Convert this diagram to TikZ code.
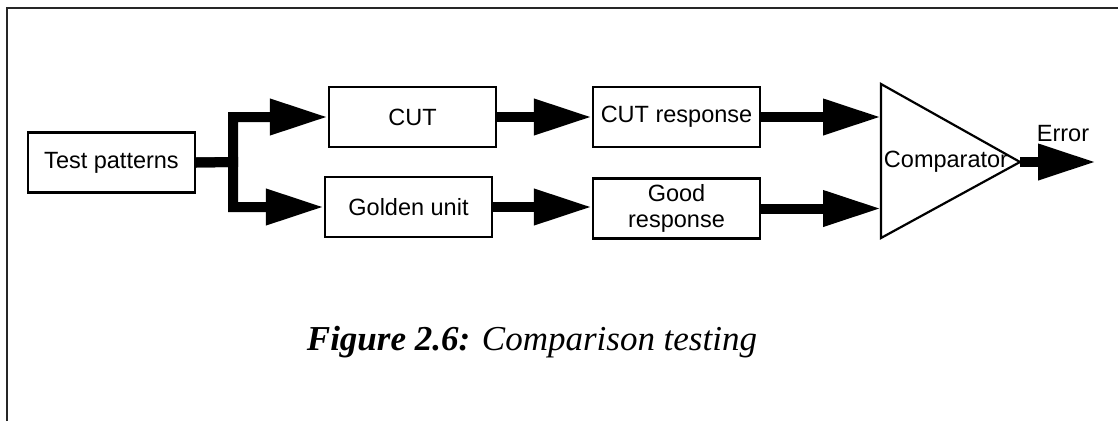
\documentclass[tikz,border=0pt]{standalone}
\usepackage{fontspec}
\setsansfont{Liberation Sans}
\newfontfamily\capfont{Liberation Serif}
\usetikzlibrary{arrows.meta}

\begin{document}
\begin{tikzpicture}[x=1pt,y=-1pt]
  \tikzstyle{block}=[draw=black,line width=2.2pt,minimum width=167pt,minimum height=60pt,inner sep=0pt,font=\sffamily\fontsize{23.5}{26}\selectfont,align=center];
  \tikzstyle{bus}=[line width=10pt,-{Triangle[length=58pt,width=34pt]}]

  \useasboundingbox (0,0) rectangle (1118,421);
  \draw[line width=1.5pt,black!85] (6.8,421) -- (6.8,7.8) -- (1118,7.8);

  \node[block] (tp) at (111.5,162.5) {Test patterns};
  \node[block] (cut) at (412.5,117) {CUT};
  \node[block] (gu) at (408.5,207) {Golden unit};
  \node[block] (cr) at (676.5,117) {CUT response};
  \node[block] (gr) at (676.5,208.5) {Good\\response};

  % comparator
  \coordinate (c1) at (881,84);
  \coordinate (c2) at (881,238);
  \coordinate (cout) at (1020,162);
  \draw[line width=2.2pt,line join=miter] (c1) -- (cout) -- (c2) -- cycle;
  \node[font=\sffamily\fontsize{23.5}{26}\selectfont,inner sep=0pt] (cmp) at (946,162) {Comparator};

  \coordinate (split) at (233,162);
  \draw[bus] (tp.east) -- (split) |- (cut.west);
  \draw[bus] (tp.east) -- (split) |- (gu.west);
  \draw[bus] (cut.east) -- (cr.west);
  \draw[bus] (gu.east) -- (gu.east -| gr.west);
  \draw[bus] (cr.east) -- (cr.east -| c1);
  \draw[bus] (gr.east) -- (gr.east -| c1);

  \coordinate (err) at (1096,162);
  \draw[bus] (cout) -- (err);
  \node[font=\sffamily\fontsize{23.5}{26}\selectfont,inner sep=0pt] (errlbl) at (1063,134) {Error};

  \node[anchor=base,inner sep=0pt] (cap) at (532,350) {\capfont\fontsize{35}{40}\selectfont\itshape{\bfseries Figure 2.6:} Comparison testing};

\end{tikzpicture}
\end{document}
